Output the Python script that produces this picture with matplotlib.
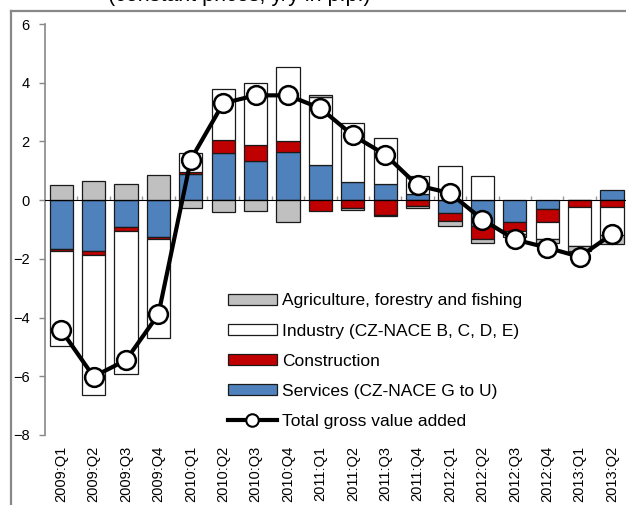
import numpy as np
import matplotlib
matplotlib.use("Agg")
import matplotlib.pyplot as plt
from matplotlib.lines import Line2D
from matplotlib.patches import Patch

plt.rcParams['font.family'] = ['Liberation Sans', 'DejaVu Sans']

categories = ['2009:Q1', '2009:Q2', '2009:Q3', '2009:Q4',
              '2010:Q1', '2010:Q2', '2010:Q3', '2010:Q4',
              '2011:Q1', '2011:Q2', '2011:Q3', '2011:Q4',
              '2012:Q1', '2012:Q2', '2012:Q3', '2012:Q4',
              '2013:Q1', '2013:Q2']
services = [-1.67, -1.74, -0.91, -1.26, 0.89, 1.60, 1.33, 1.64, 1.21, 0.62,
            0.54, 0.21, -0.43, -0.88, -0.75, -0.30, 0.00, 0.36]
construction = [-0.05, -0.14, -0.15, -0.06, 0.07, 0.44, 0.55, 0.38, -0.38, -0.27,
                -0.52, -0.21, -0.28, -0.43, -0.30, -0.45, -0.24, -0.23]
industry = [-3.24, -4.77, -4.85, -3.37, 0.64, 1.74, 2.11, 2.53, 2.30, 2.01,
            1.56, 0.60, 1.18, 0.81, -0.10, -0.56, -1.33, -0.97]
agriculture = [0.50, 0.65, 0.55, 0.86, -0.27, -0.40, -0.38, -0.75, 0.08, -0.08,
               -0.03, -0.05, -0.17, -0.14, -0.10, -0.15, -0.17, -0.28]
total = [-4.43, -6.01, -5.45, -3.89, 1.38, 3.30, 3.57, 3.57, 3.13, 2.21,
         1.55, 0.50, 0.24, -0.66, -1.34, -1.62, -1.93, -1.16]
yticks = [6, 4, 2, 0, -2, -4, -6, -8]

labels = {
    'agri': 'Agriculture, forestry and fishing',
    'ind': 'Industry (CZ-NACE B, C, D, E)',
    'con': 'Construction',
    'ser': 'Services (CZ-NACE G to U)',
    'tot': 'Total gross value added',
}
colors = {'agri': '#C0C0C0', 'ind': '#FFFFFF', 'con': '#C00000', 'ser': '#4F81BD'}

W, H = 626, 505
fig = plt.figure(figsize=(W / 100, H / 100), dpi=100)
ax = fig.add_axes([45 / W, (H - 435) / H, 583.2 / W, 411 / H])

x = np.arange(len(categories))
pos_base = np.zeros(len(x))
neg_base = np.zeros(len(x))
series = [('ser', services), ('con', construction), ('ind', industry), ('agri', agriculture)]
for key, vals in series:
    v = np.array(vals, dtype=float)
    bottom = np.where(v >= 0, pos_base, neg_base)
    ax.bar(x, v, bottom=bottom, width=0.71, color=colors[key],
           edgecolor='#1a1a1a', linewidth=0.9, zorder=2)
    pos_base += np.where(v >= 0, v, 0)
    neg_base += np.where(v < 0, v, 0)

ax.plot(x, total, color='black', lw=3.0, marker='o', ms=13.5,
        mfc='white', mec='black', mew=1.8, zorder=4)

ymin, ymax = -8, 6
ax.set_ylim(ymin, ymax)
ax.set_xlim(-0.5, len(x) - 0.5)
ax.set_yticks(yticks)
ax.tick_params(axis='y', direction='out', length=4, width=1, color='#888888',
               pad=7, labelsize=10.5)
ax.set_xticks(x)
ax.set_xticklabels(categories, rotation=90, fontsize=10.5)
ax.tick_params(axis='x', length=0, pad=8)
for s in ['top', 'right', 'bottom']:
    ax.spines[s].set_visible(False)
ax.spines['left'].set_color('#888888')
ax.spines['left'].set_linewidth(1.2)

# zero axis with boundary ticks
sec = ax.secondary_xaxis((0 - ymin) / (ymax - ymin))
sec.set_xticks(np.arange(0.5, len(x) - 0.5, 1.0))
sec.set_xticklabels([])
sec.tick_params(direction='out', length=3, width=1, color='#999999')
sec.spines['bottom'].set_color('#999999')
sec.spines['bottom'].set_linewidth(1.2)
sec.set_zorder(3)

handles = [Patch(facecolor=colors['agri'], edgecolor='#1a1a1a', linewidth=0.9),
           Patch(facecolor=colors['ind'], edgecolor='#1a1a1a', linewidth=0.9),
           Patch(facecolor=colors['con'], edgecolor='#1a1a1a', linewidth=0.9),
           Patch(facecolor=colors['ser'], edgecolor='#1a1a1a', linewidth=0.9),
           Line2D([], [], color='black', lw=3.0, marker='o', ms=9,
                  mfc='white', mec='black', mew=1.5)]
fig.legend(handles, [labels[k] for k in ['agri', 'ind', 'con', 'ser', 'tot']],
           loc='upper left', bbox_to_anchor=(228 / W, 1 - 293.5 / H),
           frameon=False, fontsize=12.5, handlelength=2.8, handleheight=0.57,
           handletextpad=0.3, labelspacing=0.87, borderpad=0, borderaxespad=0)

fig.text(239 / W, 1 - 1.5 / H, '(constant prices, y/y in p.p.)',
         ha='center', va='baseline', fontsize=15.5)

# outer chart frame
fig.add_artist(Line2D([11 / W, 11 / W], [0, 1 - 11 / H], transform=fig.transFigure,
                      color='#888888', lw=1.6))
fig.add_artist(Line2D([11 / W, 1], [1 - 11 / H, 1 - 11 / H], transform=fig.transFigure,
                      color='#888888', lw=1.6))

fig.savefig('out.png', dpi=100)
